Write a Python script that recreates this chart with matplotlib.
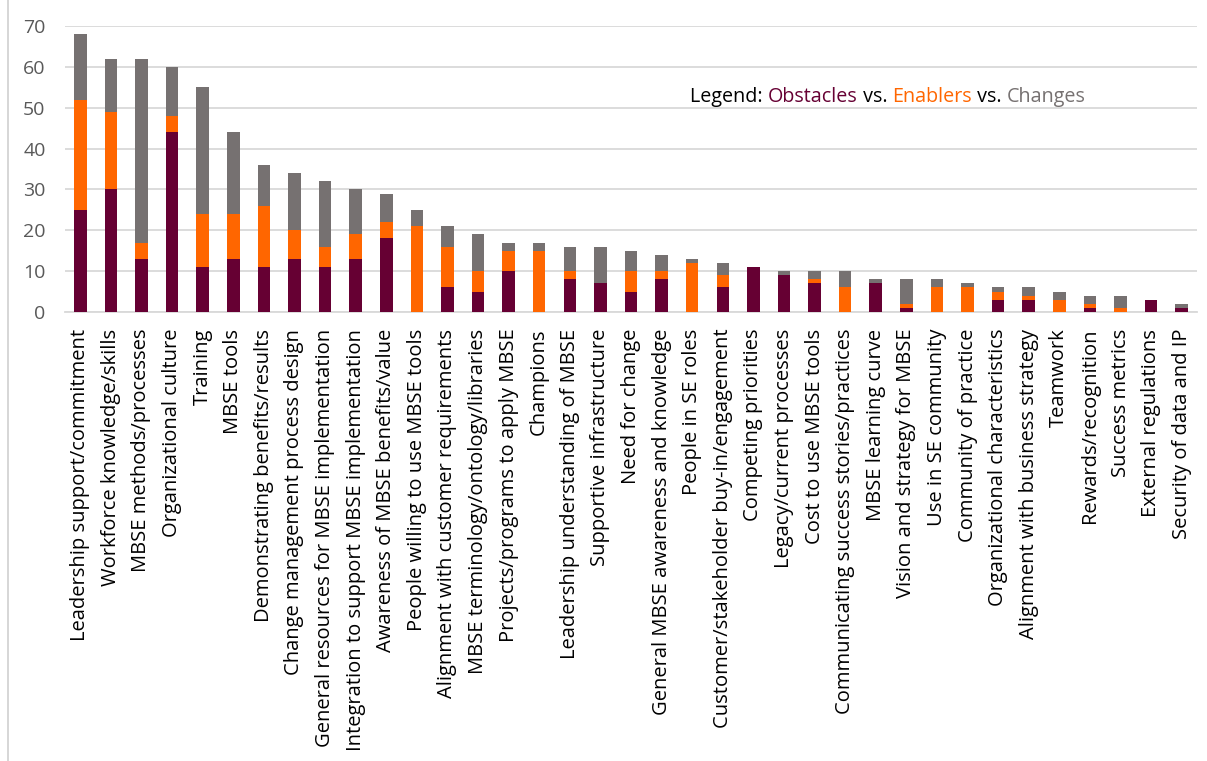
import matplotlib
matplotlib.use("Agg")
import matplotlib.pyplot as plt
import numpy as np
from matplotlib.offsetbox import TextArea, HPacker, AnchoredOffsetbox
from matplotlib.lines import Line2D

categories = [
    "Leadership support/commitment", "Workforce knowledge/skills", "MBSE methods/processes",
    "Organizational culture", "Training", "MBSE tools", "Demonstrating benefits/results",
    "Change management process design", "General resources for MBSE implementation",
    "Integration to support MBSE implementation", "Awareness of MBSE benefits/value",
    "People willing to use MBSE tools", "Alignment with customer requirements",
    "MBSE terminology/ontology/libraries", "Projects/programs to apply MBSE", "Champions",
    "Leadership understanding of MBSE", "Supportive infrastructure", "Need for change",
    "General MBSE awareness and knowledge", "People in SE roles",
    "Customer/stakeholder buy-in/engagement", "Competing priorities", "Legacy/current processes",
    "Cost to use MBSE tools", "Communicating success stories/practices", "MBSE learning curve",
    "Vision and strategy for MBSE", "Use in SE community", "Community of practice",
    "Organizational characteristics", "Alignment with business strategy", "Teamwork",
    "Rewards/recognition", "Success metrics", "External regulations", "Security of data and IP",
]
obstacles = [25, 30, 13, 44, 11, 13, 11, 13, 11, 13, 18, 0, 6, 5, 10, 0, 8, 7, 5, 8, 0, 6, 11, 9, 7,
             0, 7, 1, 0, 0, 3, 3, 0, 1, 0, 3, 1]
enablers = [27, 19, 4, 4, 13, 11, 15, 7, 5, 6, 4, 21, 10, 5, 5, 15, 2, 0, 5, 2, 12, 3, 0, 0, 1,
            6, 0, 1, 6, 6, 2, 1, 3, 1, 1, 0, 0]
changes = [16, 13, 45, 12, 31, 20, 10, 14, 16, 11, 7, 4, 5, 9, 2, 2, 6, 9, 5, 4, 1, 3, 0, 1, 2,
           4, 1, 6, 2, 1, 1, 2, 2, 2, 3, 0, 1]
yticks = [0, 10, 20, 30, 40, 50, 60, 70]

C_OBS = "#660033"
C_ENA = "#FF6600"
C_CHG = "#767171"
GRID = "#D9D9D9"

plt.rcParams['font.family'] = ['Open Sans', 'DejaVu Sans']

fig = plt.figure(figsize=(12.07, 7.61), dpi=100)
ax = fig.add_axes([65 / 1207, 1 - 312 / 761, (1197 - 65) / 1207, (312 - 26) / 761])

x = np.arange(len(categories))
obs = np.array(obstacles)
ena = np.array(enablers)
chg = np.array(changes)
w = 0.41
ax.bar(x, obs, w, color=C_OBS, zorder=3)
ax.bar(x, ena, w, bottom=obs, color=C_ENA, zorder=3)
ax.bar(x, chg, w, bottom=obs + ena, color=C_CHG, zorder=3)

ax.set_xlim(-0.5, len(categories) - 0.5)
ax.set_ylim(0, 70)
ax.set_yticks(yticks)
ax.yaxis.grid(True, color=GRID, linewidth=1.3, zorder=0)
ax.set_axisbelow(True)
for s in ['top', 'right', 'left']:
    ax.spines[s].set_visible(False)
ax.spines['bottom'].set_color(GRID)
ax.spines['bottom'].set_linewidth(1.3)
ax.tick_params(axis='y', length=0, pad=14, labelsize=14, labelcolor="#595959")
ax.tick_params(axis='x', length=0, pad=12)
ax.set_xticks(x)
ax.set_xticklabels(categories, rotation=90, fontsize=14.5, color="black")

parts = [("Legend: ", "black"), ("Obstacles", C_OBS), (" vs. ", "black"),
         ("Enablers", C_ENA), (" vs. ", "black"), ("Changes", C_CHG)]
areas = [TextArea(t, textprops=dict(color=c, fontsize=14.2)) for t, c in parts]
pack = HPacker(children=areas, align="baseline", pad=0, sep=0)
ab = AnchoredOffsetbox(loc='center', child=pack, frameon=False,
                       bbox_to_anchor=(888 / 1207, 1 - 97 / 761),
                       bbox_transform=fig.transFigure, borderpad=0, pad=0)
fig.add_artist(ab)

fig.add_artist(Line2D([7.5 / 1207, 7.5 / 1207], [0, 1], transform=fig.transFigure,
                      color="#D0D0D0", linewidth=1.2))

fig.savefig("out.png", dpi=100)
